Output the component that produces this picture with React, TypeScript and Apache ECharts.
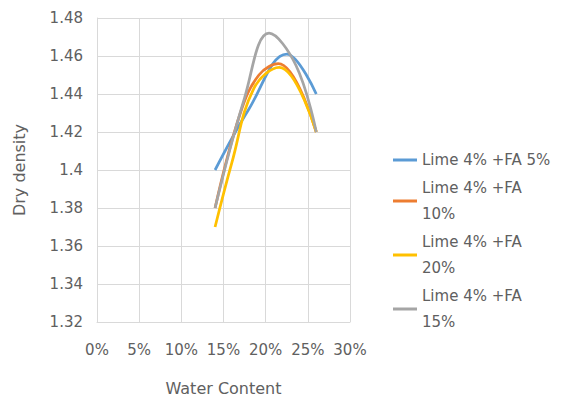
import React, { useEffect, useRef } from "react";
import * as echarts from "echarts";

// Water content (%) against dry density for each lime / fly-ash mix
const seriesNames = ["Lime 4% +FA 5%", "Lime 4% +FA 10%", "Lime 4% +FA 20%", "Lime 4% +FA 15%"];
const seriesColors = ["#5B9BD5", "#ED7D31", "#FFC000", "#A5A5A5"];

const fa5: [number, number][] = [[14, 1.40], [18, 1.432], [22.5, 1.461], [26, 1.44]];
const fa10: [number, number][] = [[14, 1.38], [17, 1.43], [19.2, 1.45], [21.5, 1.456], [26, 1.42]];
const fa20: [number, number][] = [[14, 1.37], [16, 1.404], [18.6, 1.443], [21.6, 1.454], [26, 1.42]];
const fa15: [number, number][] = [[14, 1.38], [17.5, 1.438], [20.4, 1.472], [23.6, 1.455], [26, 1.42]];

const xTicks = { min: 0, max: 30, step: 5 };
const yTicks = { min: 1.32, max: 1.48, step: 0.02 };

const FONT = "DejaVu Sans";
const TEXT = "#606060";

export default function App() {
  const ref = useRef<HTMLDivElement>(null);

  useEffect(() => {
    if (!ref.current) return;
    const chart = echarts.init(ref.current, undefined, { renderer: "svg" });
    const data = [fa5, fa10, fa20, fa15];
    chart.setOption({
      animation: false,
      textStyle: { fontFamily: FONT },
      grid: { left: 97, right: 221, top: 18, bottom: 77 },
      legend: {
        orient: "vertical",
        left: 388,
        top: 142,
        itemWidth: 24,
        itemHeight: 3,
        itemGap: 2,
        icon: "rect",
        data: seriesNames.map((n, i) => ({ name: n, itemStyle: { color: seriesColors[i] } })),
        formatter: (name: string) => (name === seriesNames[0] ? name : name.replace(/ (\d+%)$/, "\n$1")),
        textStyle: { color: TEXT, fontSize: 15, lineHeight: 26, fontFamily: FONT },
      },
      xAxis: {
        type: "value",
        min: xTicks.min,
        max: xTicks.max,
        interval: xTicks.step,
        name: "Water Content",
        nameLocation: "middle",
        nameGap: 58,
        nameTextStyle: { color: TEXT, fontSize: 16, fontFamily: FONT },
        axisLine: { show: true, lineStyle: { color: "#d9d9d9" } },
        axisTick: { show: false },
        axisLabel: { color: TEXT, fontSize: 15, margin: 20, formatter: (v: number) => `${v}%` },
        splitLine: { show: true, lineStyle: { color: "#d9d9d9" } },
      },
      yAxis: {
        type: "value",
        min: yTicks.min,
        max: yTicks.max,
        interval: yTicks.step,
        name: "Dry density",
        nameLocation: "middle",
        nameGap: 70,
        nameRotate: 90,
        nameTextStyle: { color: TEXT, fontSize: 16, fontFamily: FONT },
        axisLine: { show: true, lineStyle: { color: "#d9d9d9" } },
        axisTick: { show: false },
        axisLabel: {
          color: TEXT,
          fontSize: 15,
          margin: 14,
          formatter: (v: number) => String(parseFloat(v.toFixed(2))),
        },
        splitLine: { show: true, lineStyle: { color: "#d9d9d9" } },
      },
      series: seriesNames.map((n, i) => ({
        name: n,
        type: "line",
        data: data[i],
        smooth: 0.4,
        symbol: "none",
        color: seriesColors[i],
        lineStyle: { color: seriesColors[i], width: 2.75 },
      })),
    });
    return () => chart.dispose();
  }, []);

  return (
    <div
      ref={ref}
      style={{ position: "fixed", left: 0, top: 0, width: 571, height: 401, background: "#fff" }}
    />
  );
}
